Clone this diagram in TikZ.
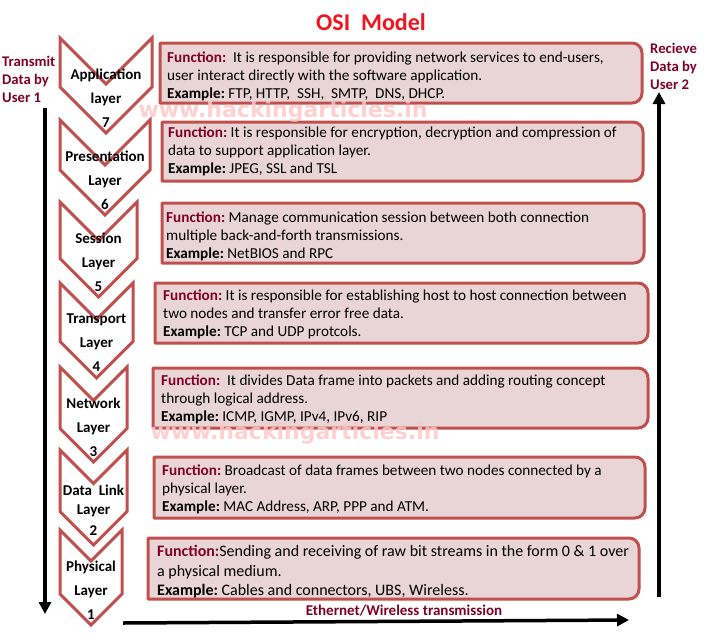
\documentclass[tikz,border=0pt]{standalone}
\usepackage{fontspec}
\setmainfont{Carlito}
\newfontfamily\markfont{DejaVu Sans}
\usetikzlibrary{arrows.meta}
\definecolor{layerred}{RGB}{192,80,77}
\definecolor{boxpink}{RGB}{233,213,213}
\definecolor{funcred}{RGB}{128,0,38}
\definecolor{titlered}{RGB}{240,20,30}
\definecolor{markpink}{RGB}{255,200,200}
\newcommand{\fnlab}{{\color{funcred}\bfseries Function:}}
\newcommand{\exlab}{{\bfseries Example:}}
\begin{document}
\begin{tikzpicture}[x=1pt,y=-1pt,>={Triangle[width=12pt,length=12pt]},line join=round,
	chev/.style={draw=layerred,line width=3pt,fill=white,line join=miter},
	chevtext/.style={align=center,inner sep=0pt,font=\bfseries\fontsize{15}{24}\selectfont},
	layerbox/.style={draw=layerred,line width=3pt,fill=boxpink},
	boxtext/.style={anchor=west,align=left,inner sep=0pt,font=\fontsize{15.2}{18}\selectfont},
	sidetext/.style={anchor=west,align=left,inner sep=0pt,text=funcred,font=\bfseries\fontsize{14.7}{18}\selectfont},
	flow/.style={line width=3.5pt,->}]
	\useasboundingbox (0,0) rectangle (704,632);
	\node[text=titlered,font=\bfseries\fontsize{24}{28}\selectfont] (title) at (371,22) {OSI\ \ Model};
	% chevrons: number / right edge / top / label
	\foreach \n/\r/\t/\lab in {7/152/38/{Application\\layer\\7},6/150/120/{Presentation\\Layer\\6},
		5/137/202/{Session\\Layer\\5},4/133/283/{Transport\\Layer\\4},3/127/367/{Network\\Layer\\3},
		2/127/450/{Data\ \ Link\\[-5pt]Layer\\[-3pt]2},1/122/530/{Physical\\Layer\\1}}{
		\pgfmathsetmacro\d{(\r-60)/2}
		\pgfmathsetmacro\cx{(60+\r)/2}
		\draw[chev] (60,\t) -- (\cx,\t+\d) -- (\r,\t) -- (\r,\t+95-\d) -- (\cx,\t+95) -- (60,\t+95-\d) -- cycle;
		\node[chevtext] (layer\n) at (\cx,\t+60) {\lab};
	}
	% boxes: number / left / top / right / bottom
	\foreach \n/\l/\t/\r/\b in {7/160/43/642/103,6/162/122/643/181,5/162/203/644/263,4/155/283/648/343,
		3/153/368/648/428,2/154/457/645/518,1/148/538/639/599}{
		\pgfmathsetmacro\m{(\l+\r)/2}
		\draw[layerbox] (\l,\t) -- (\m,\t) [rounded corners=10pt] -- (\r,\t) -- (\r,\b) -- (\m,\b) [sharp corners] -- (\l,\b) -- cycle;
	}
	\node[boxtext] (func7) at (167,76) {\fnlab\ \ It is responsible for providing network services to end-users,\\user interact directly with the software application.\\\exlab\ FTP, HTTP,\ \ SSH,\ \ SMTP,\ \ DNS, DHCP.};
	\node[boxtext] (func6) at (168,151) {\fnlab\ It is responsible for encryption, decryption and compression of\\data to support application layer.\\\exlab\ JPEG, SSL and TSL};
	\node[boxtext] (func5) at (166,236) {\fnlab\ Manage communication session between both connection\\multiple back-and-forth transmissions.\\\exlab\ NetBIOS and RPC};
	\node[boxtext] (func4) at (163,314) {\fnlab\ It is responsible for establishing host to host connection between\\two nodes and transfer error free data.\\\exlab\ TCP and UDP protcols.};
	\node[boxtext] (func3) at (161,399) {\fnlab\ \ It divides Data frame into packets and adding routing concept\\through logical address.\\\exlab\ ICMP, IGMP, IPv4, IPv6, RIP};
	\node[boxtext] (func2) at (162,489) {\fnlab\ Broadcast of data frames between two nodes connected by a\\physical layer.\\\exlab\ MAC Address, ARP, PPP and ATM.};
	\node[boxtext,font=\fontsize{16}{19.5}\selectfont] (func1) at (157,572) {\fnlab Sending and receiving of raw bit streams in the form 0 \& 1 over\\a physical medium.\\\exlab\ Cables and connectors, UBS, Wireless.};
	% users and transmission
	\node[sidetext] (sender) at (2,79) {Transmit\\Data by\\User 1};
	\node[sidetext] (receiver) at (650,66) {Recieve\\Data by\\User 2};
	\coordinate (sendtop) at (45,108);
	\coordinate (sendbot) at (45,614);
	\coordinate (recvbot) at (659,597);
	\coordinate (recvtop) at (659,92);
	\coordinate (wireleft) at (123,623);
	\coordinate (wireright) at (629,620);
	\draw[flow] (sendtop) -- (sendbot);
	\draw[flow] (recvbot) -- (recvtop);
	\draw[flow] (wireleft) -- (wireright);
	\node[text=funcred,font=\bfseries\fontsize{15}{16}\selectfont] (wire) at (404,611) {Ethernet/Wireless transmission};
	% watermark
	\node[text=markpink,opacity=0.85,font=\markfont\bfseries\fontsize{22}{26}\selectfont] (mark1) at (283,112) {www.hackingarticles.in};
	\node[text=markpink,opacity=0.85,font=\markfont\bfseries\fontsize{22}{26}\selectfont] (mark2) at (295,434) {www.hackingarticles.in};
\end{tikzpicture}
\end{document}
